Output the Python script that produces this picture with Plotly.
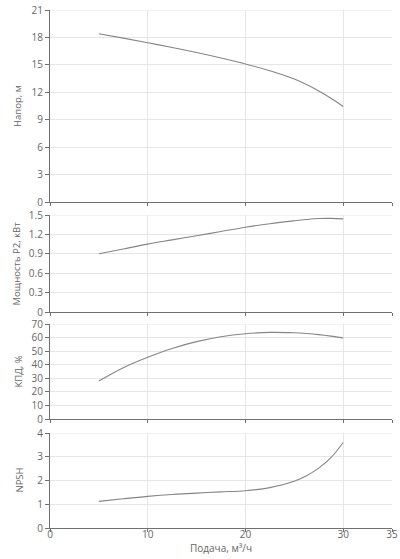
import plotly.graph_objects as go
from plotly.subplots import make_subplots

# Data
flow = [5, 7.5, 10, 12.5, 15, 17.5, 20, 22.5, 25, 26.25, 27.5, 28.75, 30]
head = [18.4, 17.92, 17.42, 16.9, 16.35, 15.75, 15.1, 14.35, 13.45, 12.85, 12.15, 11.35, 10.45]
power = [0.9, 0.975, 1.05, 1.115, 1.18, 1.245, 1.31, 1.365, 1.41, 1.43, 1.445, 1.448, 1.44]
eff = [28.0, 37.8, 45.5, 52.0, 57.0, 60.6, 62.8, 63.8, 63.5, 63.0, 62.2, 61.1, 59.8]
npsh = [1.12, 1.23, 1.33, 1.41, 1.47, 1.52, 1.57, 1.70, 1.97, 2.2, 2.52, 2.96, 3.6]

y_titles = ["Напор, м", "Мощность P2, кВт", "КПД, %", "NPSH"]
y_ranges = [[0, 21], [0, 1.5], [0, 70], [0, 4]]
y_dticks = [3, 0.3, 10, 1]
x_title = "Подача, м³/ч"
x_range = [0, 35]
x_ticks = [0, 10, 20, 30, 35]

series = [head, power, eff, npsh]

fig = make_subplots(rows=4, cols=1, shared_xaxes=False)

for i, s in enumerate(series):
    fig.add_trace(go.Scatter(x=flow, y=s, mode="lines",
                             line=dict(color="#858585", width=1.1, shape="spline", smoothing=1.0),
                             showlegend=False, hoverinfo="skip"),
                  row=i + 1, col=1)

H = 559
top = 10
bottom_px = 528
plot_h = bottom_px - top
panels_px = [(10, 202), (215, 312), (324, 419), (433, 528)]
title_x_px = [18, 16, 18, 19]
def to_paper(px):
    return (bottom_px - px) / plot_h

grid_c = "#e4e6ea"
axis_c = "#707070"
font_c = "#666666"

for i in range(4):
    t, b = panels_px[i]
    dom = [to_paper(b), to_paper(t)]
    yname = "yaxis" if i == 0 else f"yaxis{i+1}"
    xname = "xaxis" if i == 0 else f"xaxis{i+1}"
    fig.layout[yname].update(
        domain=dom, range=y_ranges[i], dtick=y_dticks[i], tick0=0,
        showgrid=True, gridcolor=grid_c, gridwidth=1,
        showline=True, linecolor=axis_c, linewidth=1.2,
        ticks="outside", ticklen=4, tickcolor=axis_c,
        zeroline=False, automargin=False,
        tickfont=dict(size=10, color=font_c, family="Open Sans"),
        fixedrange=True,
    )
    fig.layout[xname].update(
        range=x_range, tickvals=x_ticks,
        showgrid=True, gridcolor=grid_c, gridwidth=1,
        showline=True, linecolor=axis_c, linewidth=1.2,
        ticks="outside", ticklen=3, tickcolor=axis_c,
        zeroline=False, automargin=False,
        showticklabels=(i == 3), ticklabelstandoff=-6,
        tickfont=dict(size=10, color=font_c, family="Open Sans"),
        fixedrange=True,
    )
    # y-axis title as annotation, centered on panel
    fig.add_annotation(
        text=y_titles[i], textangle=-90, showarrow=False,
        xref="paper", yref="paper",
        x=(title_x_px[i] - 50) / (400 - 50 - 8), y=to_paper((t + b) / 2),
        xanchor="center", yanchor="middle",
        font=dict(size=9.5, color=font_c, family="Open Sans"),
    )

fig.add_annotation(
    text=x_title, showarrow=False, xref="paper", yref="paper",
    x=0.5, y=to_paper(547.5), xanchor="center", yanchor="middle",
    font=dict(size=10, color=font_c, family="Open Sans"),
)

# top borders as grid-like lines
for i in range(4):
    xr = "x" if i == 0 else f"x{i+1}"
    yr = "y" if i == 0 else f"y{i+1}"
    fig.add_shape(type="line", xref=xr, yref=yr, x0=x_range[0], x1=x_range[1],
                  y0=y_ranges[i][1], y1=y_ranges[i][1], line=dict(color=grid_c, width=1), layer="below")

fig.update_layout(
    width=400, height=H,
    margin=dict(l=50, r=8, t=top, b=H - bottom_px),
    paper_bgcolor="white", plot_bgcolor="white",
    font=dict(family="Open Sans", size=10, color=font_c),
)

fig.write_html("out.html")
